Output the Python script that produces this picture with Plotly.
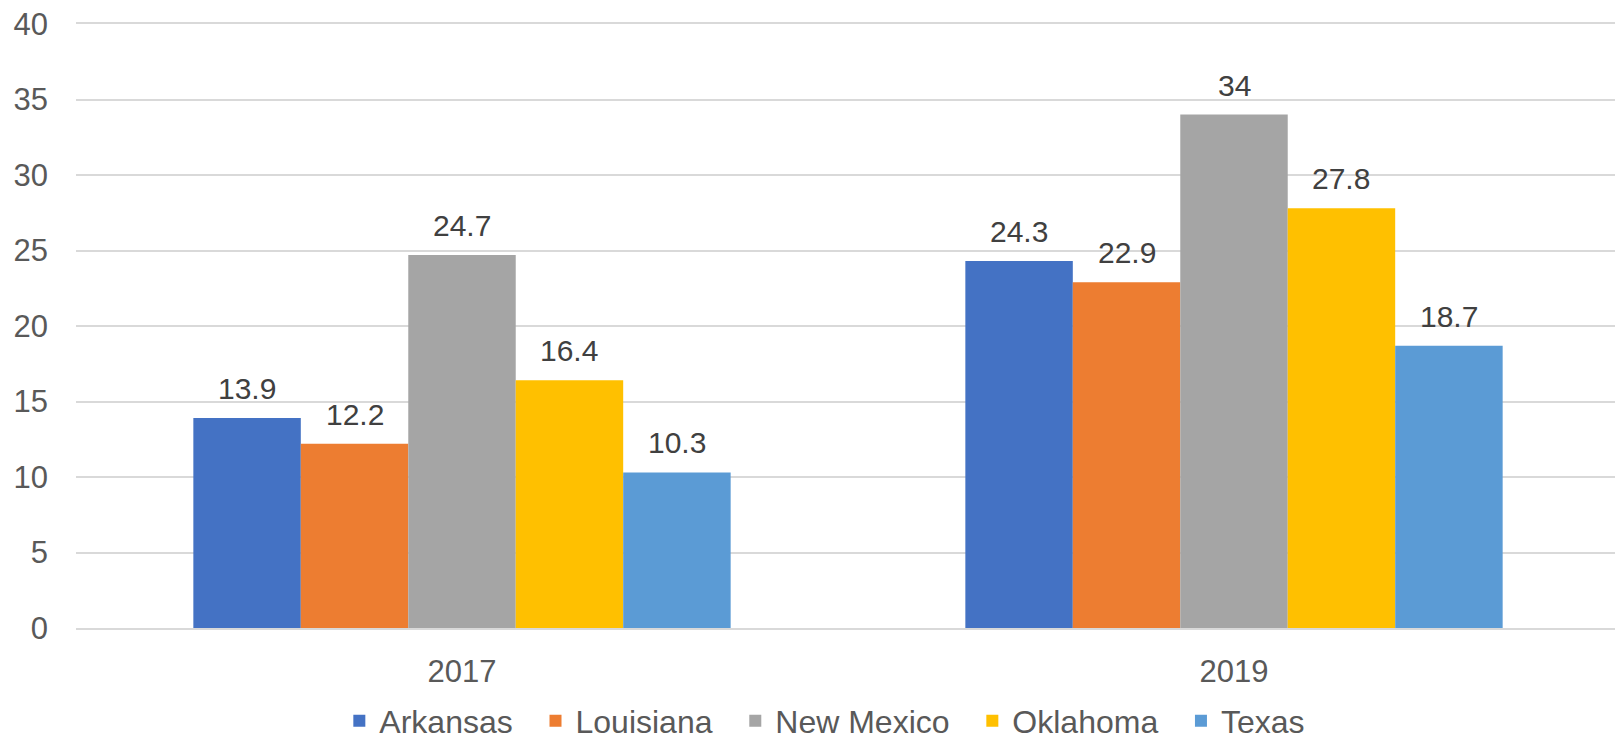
import plotly.graph_objects as go

years = ["2017", "2019"]
states = ["Arkansas", "Louisiana", "New Mexico", "Oklahoma", "Texas"]
arkansas = [13.9, 24.3]
louisiana = [12.2, 22.9]
new_mexico = [24.7, 34]
oklahoma = [16.4, 27.8]
texas = [10.3, 18.7]
series = [arkansas, louisiana, new_mexico, oklahoma, texas]
colors = ["#4472C4", "#ED7D31", "#A5A5A5", "#FFC000", "#5B9BD5"]
y_ticks = [0, 5, 10, 15, 20, 25, 30, 35, 40]

FONT = "Arial, 'Liberation Sans', sans-serif"
BARGAP = 0.304
PAD = "\u00a0\u00a0"  # spacing between legend entries

fig = go.Figure()
for name, vals, col in zip(states, series, colors):
    fig.add_trace(go.Bar(
        x=years, y=vals, name=name + PAD, marker=dict(color=col, line=dict(width=0)),
        hovertemplate=name + ": %{y}<extra></extra>",
    ))

# data labels as annotations placed in data coordinates
n = len(states)
w = (1 - BARGAP) / n
annotations = []
for i, vals in enumerate(series):
    for j, v in enumerate(vals):
        annotations.append(dict(
            x=j + (i - (n - 1) / 2) * w, y=v, xref="x", yref="y",
            text=f"{v:g}", showarrow=False, yanchor="bottom",
            yshift=11, font=dict(family=FONT, size=30, color="#404040"),
        ))

# page body has an 8px margin, so the figure is 8px smaller on each side
fig.update_layout(
    width=1615, height=732,
    margin=dict(l=68, r=3, t=16, b=112, autoexpand=False),
    paper_bgcolor="white", plot_bgcolor="white",
    barmode="group", bargap=BARGAP, bargroupgap=0,
    font=dict(family=FONT, size=31, color="#595959"),
    annotations=annotations,
    showlegend=True,
    legend=dict(
        orientation="h", xref="paper", x=0.4905, xanchor="center",
        yref="container", y=0.0259, yanchor="middle",
        font=dict(family=FONT, size=32, color="#595959"),
        itemwidth=30, traceorder="normal",
    ),
    xaxis=dict(
        type="category", showgrid=False, ticks="",
        showline=True, mirror=True, linecolor="#D9D9D9", linewidth=1.5,
        tickfont=dict(family=FONT, size=31, color="#595959"),
        ticklabelstandoff=15, automargin=False,
    ),
    yaxis=dict(
        range=[0, 40], tickvals=y_ticks, showgrid=True, gridcolor="#D9D9D9",
        gridwidth=1.5, zeroline=False, showline=False, ticks="",
        tickfont=dict(family=FONT, size=31, color="#595959"),
        ticklabelstandoff=27, automargin=False, ticklabeloverflow="allow",
    ),
)

fig.write_html("out.html")
